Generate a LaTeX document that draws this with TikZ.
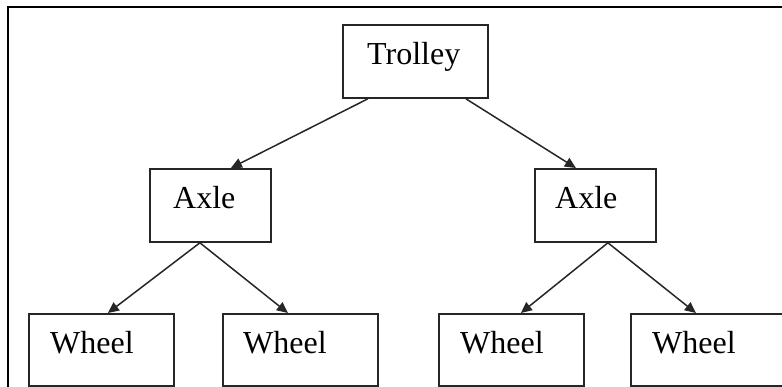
\documentclass[tikz,border=0pt]{standalone}
\usepackage{fontspec}
\setmainfont{Liberation Serif}
\usetikzlibrary{arrows.meta}
\begin{document}
\begin{tikzpicture}[x=1pt,y=-1pt,
  box/.style={draw=black!85,line width=1.8pt,minimum width=#1,minimum height=72pt,inner sep=0pt,anchor=north west},
  lbl/.style={font=\fontsize{32}{36}\selectfont,anchor=base west,inner sep=0pt},
  conn/.style={draw=black!85,line width=1.5pt,-{Triangle[length=11pt,width=10pt]}}]
\useasboundingbox (0,0) rectangle (782,387);
% frame
\coordinate (fbl) at (8,400);
\coordinate (ftl) at (8,7);
\coordinate (ftr) at (800,7);
\draw[line width=2.4pt] (fbl) -- (ftl) -- (ftr);
% boxes
\node[box=145pt,minimum height=73pt] (t) at (342,24) {};
\node[box=121pt,minimum height=73pt] (a1) at (149,168) {};
\node[box=121pt,minimum height=73pt] (a2) at (534,168) {};
\node[box=145pt] (w1) at (28,313) {};
\node[box=155pt] (w2) at (222,313) {};
\node[box=145pt] (w3) at (438,313) {};
\node[box=160pt] (w4) at (630,313) {};
% labels
\node[lbl] (tt) at (367,65) {Trolley};
\node[lbl] (ta1) at (173,209) {Axle};
\node[lbl] (ta2) at (555,209) {Axle};
\node[lbl] (tw1) at (50,353) {Wheel};
\node[lbl] (tw2) at (243,353) {Wheel};
\node[lbl] (tw3) at (460,353) {Wheel};
\node[lbl] (tw4) at (652,353) {Wheel};
% connectors
\draw[conn] ([xshift=-47.5pt]t.south) -- ([xshift=20.5pt]a1.north);
\draw[conn] ([xshift=50.5pt]t.south) -- ([xshift=-19.5pt]a2.north);
\draw[conn] ([xshift=-10.5pt]a1.south) -- ([xshift=6.5pt]w1.north);
\draw[conn] ([xshift=-10.5pt]a1.south) -- ([xshift=-12.5pt]w2.north);
\draw[conn] ([xshift=12.5pt]a2.south) -- ([xshift=9.5pt]w3.north);
\draw[conn] ([xshift=12.5pt]a2.south) -- ([xshift=-15pt]w4.north);
\end{tikzpicture}
\end{document}
